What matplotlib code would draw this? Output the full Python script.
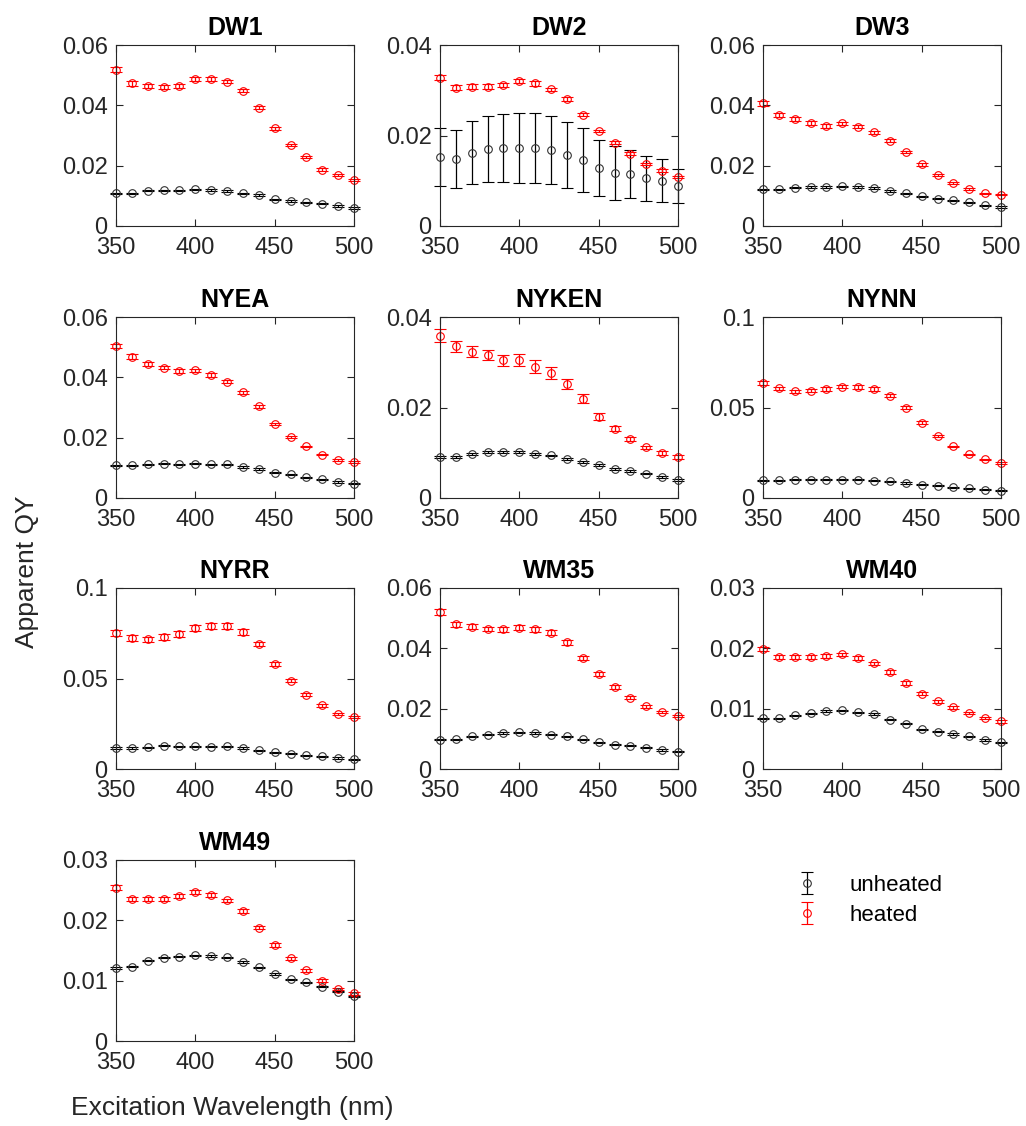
import matplotlib
matplotlib.use("Agg")
import matplotlib.pyplot as plt
from matplotlib.ticker import FuncFormatter

plt.rcParams['font.family'] = ['Liberation Sans', 'DejaVu Sans']

wavelength = [350, 360, 370, 380, 390, 400, 410, 420, 430, 440, 450, 460, 470, 480, 490, 500]

samples = ["DW1", "DW2", "DW3", "NYEA", "NYKEN", "NYNN", "NYRR", "WM35", "WM40", "WM49"]

ylims = {"DW1": 0.06, "DW2": 0.04, "DW3": 0.06, "NYEA": 0.06, "NYKEN": 0.04,
         "NYNN": 0.1, "NYRR": 0.1, "WM35": 0.06, "WM40": 0.03, "WM49": 0.03}
yticks = {"DW1": [0, 0.02, 0.04, 0.06], "DW2": [0, 0.02, 0.04], "DW3": [0, 0.02, 0.04, 0.06],
          "NYEA": [0, 0.02, 0.04, 0.06], "NYKEN": [0, 0.02, 0.04], "NYNN": [0, 0.05, 0.1],
          "NYRR": [0, 0.05, 0.1], "WM35": [0, 0.02, 0.04, 0.06], "WM40": [0, 0.01, 0.02, 0.03],
          "WM49": [0, 0.01, 0.02, 0.03]}

# apparent quantum yield, unheated samples
unheated = {
    "DW1": [0.0109, 0.0109, 0.0117, 0.0118, 0.0118, 0.0122, 0.0119, 0.0116, 0.0109, 0.0103, 0.0089, 0.0083, 0.0078, 0.0074, 0.0066, 0.0060],
    "DW2": [0.0153, 0.0148, 0.0162, 0.0170, 0.0173, 0.0173, 0.0173, 0.0168, 0.0157, 0.0146, 0.0128, 0.0117, 0.0114, 0.0105, 0.0100, 0.0089],
    "DW3": [0.0122, 0.0121, 0.0127, 0.0129, 0.0129, 0.0132, 0.0129, 0.0126, 0.0116, 0.0108, 0.0098, 0.0090, 0.0085, 0.0079, 0.0069, 0.0063],
    "NYEA": [0.0108, 0.0108, 0.0112, 0.0114, 0.0112, 0.0114, 0.0112, 0.0112, 0.0103, 0.0096, 0.0084, 0.0078, 0.0068, 0.0062, 0.0053, 0.0047],
    "NYKEN": [0.0091, 0.0091, 0.0098, 0.0101, 0.0101, 0.0101, 0.0098, 0.0094, 0.0087, 0.0080, 0.0073, 0.0064, 0.0060, 0.0054, 0.0047, 0.0039],
    "NYNN": [0.0098, 0.0098, 0.0100, 0.0102, 0.0100, 0.0102, 0.0100, 0.0096, 0.0093, 0.0083, 0.0074, 0.0069, 0.0059, 0.0054, 0.0046, 0.0041],
    "NYRR": [0.0116, 0.0116, 0.0120, 0.0129, 0.0125, 0.0125, 0.0124, 0.0125, 0.0116, 0.0103, 0.0092, 0.0085, 0.0077, 0.0070, 0.0061, 0.0055],
    "WM35": [0.0097, 0.0098, 0.0109, 0.0114, 0.0119, 0.0121, 0.0119, 0.0114, 0.0108, 0.0098, 0.0089, 0.0081, 0.0077, 0.0070, 0.0063, 0.0058],
    "WM40": [0.0084, 0.0084, 0.0089, 0.0092, 0.0096, 0.0097, 0.0094, 0.0091, 0.0082, 0.0075, 0.0066, 0.0062, 0.0058, 0.0054, 0.0048, 0.0044],
    "WM49": [0.0121, 0.0123, 0.0133, 0.0138, 0.0140, 0.0142, 0.0141, 0.0139, 0.0131, 0.0122, 0.0111, 0.0102, 0.0097, 0.0090, 0.0082, 0.0074],
}
unheated_err = {
    "DW1": [0.0002, 0.0002, 0.0002, 0.0002, 0.0002, 0.0002, 0.0002, 0.0002, 0.0002, 0.0002, 0.0002, 0.0002, 0.0002, 0.0002, 0.0002, 0.0002],
    "DW2": [0.0064, 0.0064, 0.0070, 0.0073, 0.0075, 0.0077, 0.0077, 0.0075, 0.0073, 0.0070, 0.0062, 0.0059, 0.0053, 0.0050, 0.0047, 0.0038],
    "DW3": [0.0002, 0.0002, 0.0002, 0.0002, 0.0002, 0.0002, 0.0002, 0.0002, 0.0002, 0.0002, 0.0002, 0.0002, 0.0002, 0.0002, 0.0002, 0.0002],
    "NYEA": [0.0002, 0.0002, 0.0002, 0.0002, 0.0002, 0.0002, 0.0002, 0.0002, 0.0002, 0.0002, 0.0002, 0.0002, 0.0002, 0.0002, 0.0002, 0.0002],
    "NYKEN": [0.0002, 0.0002, 0.0002, 0.0002, 0.0002, 0.0002, 0.0002, 0.0002, 0.0002, 0.0002, 0.0002, 0.0002, 0.0002, 0.0002, 0.0002, 0.0002],
    "NYNN": [0.0003, 0.0003, 0.0003, 0.0003, 0.0003, 0.0003, 0.0003, 0.0003, 0.0003, 0.0003, 0.0003, 0.0003, 0.0003, 0.0003, 0.0003, 0.0003],
    "NYRR": [0.0003, 0.0003, 0.0003, 0.0003, 0.0003, 0.0003, 0.0003, 0.0003, 0.0003, 0.0003, 0.0003, 0.0003, 0.0003, 0.0003, 0.0003, 0.0003],
    "WM35": [0.0002, 0.0002, 0.0002, 0.0002, 0.0002, 0.0002, 0.0002, 0.0002, 0.0002, 0.0002, 0.0002, 0.0002, 0.0002, 0.0002, 0.0002, 0.0002],
    "WM40": [0.0001, 0.0001, 0.0001, 0.0001, 0.0001, 0.0001, 0.0001, 0.0001, 0.0001, 0.0001, 0.0001, 0.0001, 0.0001, 0.0001, 0.0001, 0.0001],
    "WM49": [0.0001, 0.0001, 0.0001, 0.0001, 0.0001, 0.0001, 0.0001, 0.0001, 0.0001, 0.0001, 0.0001, 0.0001, 0.0001, 0.0001, 0.0001, 0.0001],
}

# apparent quantum yield, heated samples
heated = {
    "DW1": [0.0518, 0.0473, 0.0464, 0.0460, 0.0464, 0.0487, 0.0487, 0.0479, 0.0449, 0.0392, 0.0324, 0.0269, 0.0228, 0.0187, 0.0169, 0.0152],
    "DW2": [0.0328, 0.0306, 0.0308, 0.0308, 0.0312, 0.0320, 0.0315, 0.0302, 0.0280, 0.0246, 0.0210, 0.0184, 0.0160, 0.0137, 0.0122, 0.0108],
    "DW3": [0.0407, 0.0368, 0.0354, 0.0342, 0.0332, 0.0340, 0.0329, 0.0311, 0.0283, 0.0246, 0.0204, 0.0169, 0.0142, 0.0122, 0.0109, 0.0104],
    "NYEA": [0.0504, 0.0469, 0.0444, 0.0432, 0.0422, 0.0423, 0.0408, 0.0386, 0.0351, 0.0304, 0.0246, 0.0203, 0.0171, 0.0144, 0.0127, 0.0120],
    "NYKEN": [0.0359, 0.0335, 0.0323, 0.0316, 0.0304, 0.0305, 0.0290, 0.0276, 0.0252, 0.0219, 0.0180, 0.0153, 0.0130, 0.0112, 0.0099, 0.0090],
    "NYNN": [0.0635, 0.0606, 0.0589, 0.0593, 0.0602, 0.0615, 0.0613, 0.0602, 0.0565, 0.0500, 0.0417, 0.0344, 0.0285, 0.0241, 0.0213, 0.0194],
    "NYRR": [0.0751, 0.0723, 0.0716, 0.0731, 0.0745, 0.0779, 0.0788, 0.0788, 0.0756, 0.0690, 0.0581, 0.0487, 0.0411, 0.0351, 0.0306, 0.0286],
    "WM35": [0.0520, 0.0480, 0.0472, 0.0464, 0.0463, 0.0468, 0.0463, 0.0452, 0.0420, 0.0369, 0.0314, 0.0272, 0.0236, 0.0208, 0.0189, 0.0176],
    "WM40": [0.0199, 0.0186, 0.0186, 0.0186, 0.0187, 0.0190, 0.0184, 0.0175, 0.0161, 0.0143, 0.0125, 0.0112, 0.0102, 0.0093, 0.0085, 0.0079],
    "WM49": [0.0254, 0.0235, 0.0235, 0.0235, 0.0240, 0.0247, 0.0242, 0.0233, 0.0215, 0.0188, 0.0159, 0.0137, 0.0117, 0.0100, 0.0086, 0.0079],
}
heated_err = {
    "DW1": [0.0009, 0.0008, 0.0007, 0.0007, 0.0007, 0.0007, 0.0007, 0.0006, 0.0006, 0.0005, 0.0005, 0.0004, 0.0004, 0.0004, 0.0003, 0.0003],
    "DW2": [0.0006, 0.0005, 0.0005, 0.0005, 0.0005, 0.0005, 0.0005, 0.0004, 0.0004, 0.0004, 0.0003, 0.0003, 0.0003, 0.0003, 0.0003, 0.0003],
    "DW3": [0.0008, 0.0006, 0.0006, 0.0006, 0.0006, 0.0006, 0.0005, 0.0005, 0.0005, 0.0004, 0.0004, 0.0003, 0.0003, 0.0003, 0.0002, 0.0002],
    "NYEA": [0.0008, 0.0007, 0.0007, 0.0006, 0.0006, 0.0006, 0.0006, 0.0006, 0.0005, 0.0005, 0.0004, 0.0004, 0.0003, 0.0003, 0.0003, 0.0003],
    "NYKEN": [0.0014, 0.0012, 0.0012, 0.0012, 0.0013, 0.0013, 0.0014, 0.0013, 0.0011, 0.0010, 0.0008, 0.0006, 0.0005, 0.0004, 0.0004, 0.0004],
    "NYNN": [0.0012, 0.0010, 0.0010, 0.0010, 0.0010, 0.0010, 0.0010, 0.0010, 0.0009, 0.0008, 0.0007, 0.0006, 0.0005, 0.0004, 0.0004, 0.0004],
    "NYRR": [0.0015, 0.0015, 0.0015, 0.0016, 0.0016, 0.0017, 0.0017, 0.0016, 0.0016, 0.0013, 0.0011, 0.0009, 0.0008, 0.0007, 0.0006, 0.0006],
    "WM35": [0.0009, 0.0008, 0.0008, 0.0008, 0.0008, 0.0008, 0.0008, 0.0008, 0.0008, 0.0007, 0.0006, 0.0006, 0.0005, 0.0005, 0.0004, 0.0004],
    "WM40": [0.0003, 0.0003, 0.0003, 0.0003, 0.0003, 0.0003, 0.0003, 0.0003, 0.0003, 0.0003, 0.0002, 0.0002, 0.0002, 0.0002, 0.0002, 0.0002],
    "WM49": [0.0004, 0.0003, 0.0003, 0.0003, 0.0003, 0.0003, 0.0003, 0.0003, 0.0003, 0.0003, 0.0003, 0.0002, 0.0002, 0.0002, 0.0002, 0.0002],
}

W, H = 1026, 1126
fig = plt.figure(figsize=(W / 100, H / 100), dpi=100)

col_left = [116, 440, 763]
row_top = [45, 317, 588, 860]
ax_w, ax_h = 238, 181
axis_color = '#262626'

fmt = FuncFormatter(lambda v, _: '0' if v == 0 else ('%g' % v))

for i, name in enumerate(samples):
    r, c = divmod(i, 3)
    ax = fig.add_axes([col_left[c] / W, 1 - (row_top[r] + ax_h) / H, ax_w / W, ax_h / H])
    eb_u = ax.errorbar(wavelength, unheated[name], yerr=unheated_err[name], fmt='o',
                       color='black', mfc='none', mec='#333333', ms=5.5, mew=0.8,
                       elinewidth=0.9, capsize=4, capthick=0.9, label='unheated')
    eb_h = ax.errorbar(wavelength, heated[name], yerr=heated_err[name], fmt='o',
                       color='red', mfc='none', mec='red', ms=5.5, mew=0.8,
                       elinewidth=0.9, capsize=4, capthick=0.9, label='heated')
    for eb in (eb_u, eb_h):
        for art in eb.lines[0:1] + tuple(eb.lines[1]) + tuple(eb.lines[2]):
            art.set_clip_on(False)
    ax.set_xlim(350, 500)
    ax.set_ylim(0, ylims[name])
    ax.set_xticks([350, 400, 450, 500])
    ax.set_yticks(yticks[name])
    ax.yaxis.set_major_formatter(fmt)
    ax.tick_params(direction='in', length=5, width=0.8, top=True, right=True,
                   labelsize=17, colors=axis_color)
    ax.tick_params(axis='x', pad=8)
    ax.tick_params(axis='y', pad=6)
    for sp in ax.spines.values():
        sp.set_color(axis_color)
        sp.set_linewidth(0.8)
    ax.set_title(name, fontsize=18, fontweight='bold', pad=7)
    if i == 0:
        handles = [eb_u, eb_h]

fig.text(232 / W, 1 - 1108 / H, 'Excitation Wavelength (nm)', ha='center', va='center',
         fontsize=19, color=axis_color)
fig.text(27 / W, 1 - 572 / H, 'Apparent QY', ha='center', va='center', rotation=90,
         fontsize=19, color=axis_color)

fig.legend(handles, ['unheated', 'heated'], loc='upper left',
           bbox_to_anchor=(783 / W, 1 - 864 / H), frameon=False, fontsize=16,
           handlelength=1.2, handletextpad=1.3, labelspacing=0.4, borderpad=0)

fig.savefig('out.png', dpi=100)
